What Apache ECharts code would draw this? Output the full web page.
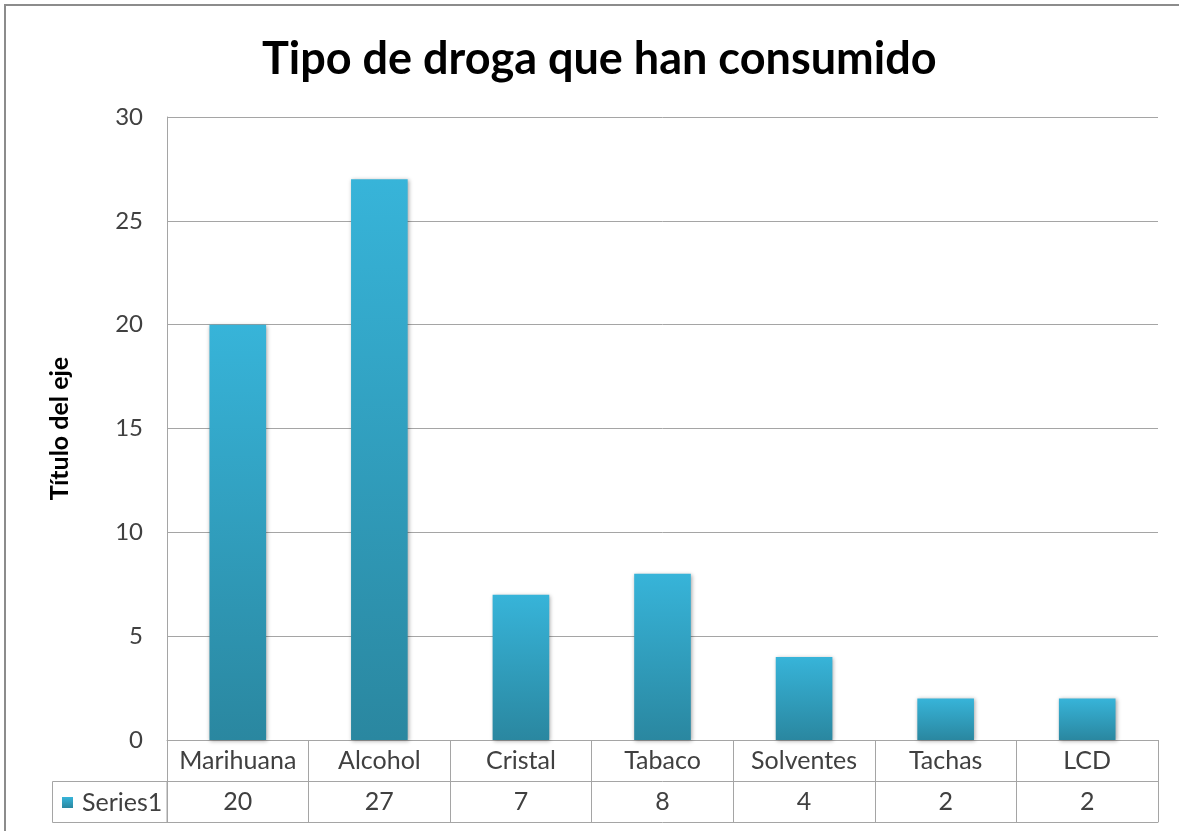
<!DOCTYPE html>
<html>
<head>
<meta charset="utf-8">
<script src="https://cdn.jsdelivr.net/npm/echarts@6/dist/echarts.min.js"></script>
<style>
html,body{margin:0;padding:0;background:#fff;}
#chart{width:1179px;height:831px;}
</style>
</head>
<body>
<div id="chart"></div>
<script>
var titleText = 'Tipo de droga que han consumido';
var yAxisTitle = 'Título del eje';
var seriesName = 'Series1';
var categories = ['Marihuana', 'Alcohol', 'Cristal', 'Tabaco', 'Solventes', 'Tachas', 'LCD'];
var values = [20, 27, 7, 8, 4, 2, 2];
var yMin = 0, yMax = 30, yInterval = 5;

var FONT = 'Lato';
var lineColor = '#A5A5A5';
var textColor = '#404040';

var chart = echarts.init(document.getElementById('chart'), null, {renderer: 'canvas'});
var barGradient = new echarts.graphic.LinearGradient(0, 0, 0, 1, [
  {offset: 0, color: '#37B4D9'},
  {offset: 1, color: '#2A87A0'}
]);

chart.setOption({
  backgroundColor: '#ffffff',
  animation: false,
  title: {
    text: titleText,
    left: 257,
    top: 32,
    textStyle: {fontFamily: FONT, fontWeight: 'bold', fontSize: 45, color: '#000000'}
  },
  legend: {
    show: true,
    data: [seriesName],
    left: 62,
    top: 790,
    icon: 'rect',
    itemWidth: 11,
    itemHeight: 11,
    itemGap: 4,
    padding: 0,
    textStyle: {fontFamily: FONT, fontSize: 25, color: textColor, padding: [0, 0, 0, 4]}
  },
  grid: {left: 167, right: 21, top: 117, bottom: 91, containLabel: false},
  xAxis: [
    {
      type: 'category',
      data: categories,
      position: 'bottom',
      boundaryGap: true,
      axisLine: {show: true, lineStyle: {color: lineColor, width: 1}},
      axisTick: {show: true, length: 82, interval: 0, lineStyle: {color: lineColor, width: 1}},
      axisLabel: {interval: 0, margin: 8, fontFamily: FONT, fontSize: 25, color: textColor}
    },
    {
      type: 'category',
      data: values.map(function (v) { return String(v); }),
      position: 'bottom',
      offset: 41,
      boundaryGap: true,
      axisLine: {show: true, lineStyle: {color: lineColor, width: 1}},
      axisTick: {show: false},
      axisLabel: {interval: 0, margin: 8, fontFamily: FONT, fontSize: 25, color: textColor}
    },
    {
      type: 'category',
      data: categories,
      position: 'bottom',
      offset: 82,
      boundaryGap: true,
      axisLine: {show: true, lineStyle: {color: lineColor, width: 1}},
      axisTick: {show: false},
      axisLabel: {show: false}
    }
  ],
  yAxis: {
    type: 'value',
    min: yMin,
    max: yMax,
    interval: yInterval,
    name: yAxisTitle,
    nameLocation: 'middle',
    nameRotate: 90,
    nameGap: 95,
    nameTextStyle: {fontFamily: FONT, fontWeight: 'bold', fontSize: 25, color: '#000000'},
    axisLine: {show: true, lineStyle: {color: lineColor, width: 1}},
    axisTick: {show: false},
    axisLabel: {margin: 24, fontFamily: FONT, fontSize: 24, color: textColor},
    splitLine: {show: true, lineStyle: {color: lineColor, width: 1}}
  },
  series: [{
    name: seriesName,
    type: 'bar',
    xAxisIndex: 0,
    data: values,
    barWidth: '40%',
    itemStyle: {
      color: barGradient,
      shadowBlur: 4,
      shadowColor: 'rgba(0,0,0,0.35)',
      shadowOffsetX: 1,
      shadowOffsetY: 1
    }
  }],
  graphic: [
    {
      type: 'rect',
      shape: {x: 5, y: 5, width: 1300, height: 1000},
      style: {fill: 'none', stroke: '#8C8C8C', lineWidth: 2},
      silent: true,
      z: 0
    },
    {
      type: 'rect',
      shape: {x: 52.5, y: 781.5, width: 114.5, height: 41},
      style: {fill: 'none', stroke: lineColor, lineWidth: 1},
      silent: true,
      z: 0
    }
  ]
});
</script>
</body>
</html>
